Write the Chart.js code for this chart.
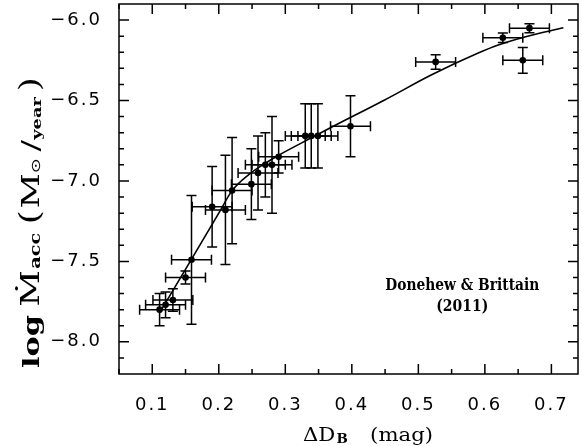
<!DOCTYPE html>
<html>
<head>
<meta charset="utf-8">
<script src="https://cdn.jsdelivr.net/npm/chart.js@4/dist/chart.umd.min.js"></script>
<style>
html, body { margin: 0; padding: 0; background: #fff; }
</style>
</head>
<body>
<canvas id="accChart" width="582" height="446"></canvas>
<script>
// stars: Delta D_B (mag) vs log accretion rate, with errors
const deltaDB    = [0.111, 0.120, 0.131, 0.150, 0.159, 0.190, 0.210, 0.220, 0.249, 0.259, 0.270,
                    0.280, 0.290, 0.330, 0.339, 0.349, 0.398, 0.526, 0.627, 0.657, 0.667];
const logMacc    = [-7.80, -7.77, -7.74, -7.60, -7.49, -7.16, -7.18, -7.06, -7.02, -6.95, -6.90,
                    -6.90, -6.85, -6.72, -6.72, -6.72, -6.66, -6.26, -6.11, -6.25, -6.05];
const deltaDBErr = [0.03, 0.03, 0.03, 0.03, 0.03, 0.03, 0.03, 0.03, 0.03, 0.03, 0.03,
                    0.03, 0.03, 0.03, 0.03, 0.03, 0.03, 0.03, 0.03, 0.03, 0.03];
const logMaccErr = [0.10, 0.08, 0.07, 0.04, 0.40, 0.25, 0.34, 0.33, 0.22, 0.23, 0.20,
                    0.30, 0.10, 0.20, 0.20, 0.20, 0.19, 0.045, 0.03, 0.08, 0.028];

// fitted relation
const fitDB   = [0.111, 0.160, 0.200, 0.220, 0.245, 0.270, 0.290, 0.340, 0.370, 0.450, 0.520, 0.590, 0.620, 0.660, 0.718];
const fitLogM = [-7.82, -7.48, -7.20, -7.06, -6.96, -6.89, -6.84, -6.73, -6.665, -6.495, -6.34, -6.205, -6.155, -6.105, -6.048];

const xTicks      = [0.1, 0.2, 0.3, 0.4, 0.5, 0.6, 0.7];
const xMinorTicks = [0.05, 0.15, 0.25, 0.35, 0.45, 0.55, 0.65];
const yTicks      = [-8.0, -7.5, -7.0, -6.5, -6.0];
const yMinorTicks = [-8.1, -7.9, -7.8, -7.7, -7.6, -7.4, -7.3, -7.2, -7.1,
                     -6.9, -6.8, -6.7, -6.6, -6.4, -6.3, -6.2, -6.1];

const refLabel = ['Donehew & Brittain', '(2011)'];

Chart.defaults.color = '#000';

function drawPieces(c, pieces, x0, y0, length, rotate) {
    c.save();
    c.translate(x0, y0);
    if (rotate) c.rotate(-Math.PI / 2);
    let total = 0;
    pieces.forEach(p => {
        c.font = p.font;
        p.w = c.measureText(p.text).width;
        total += p.w + (p.gap || 0);
    });
    c.scale(length / total, 1);
    c.textBaseline = 'alphabetic';
    c.textAlign = 'left';
    let x = 0;
    pieces.forEach(p => {
        c.font = p.font;
        c.fillText(p.text, x, p.dy || 0);
        x += p.w + (p.gap || 0);
    });
    c.restore();
}

function fitText(c, text, cx, y, font, width) {
    c.save();
    c.font = font;
    const w = c.measureText(text).width;
    c.translate(cx, y);
    c.scale(width / w, 1);
    c.textAlign = 'center';
    c.textBaseline = 'alphabetic';
    c.fillText(text, 0, 0);
    c.restore();
}

const errorBars = {
    id: 'errorBars',
    beforeDatasetsDraw(chart) {
        const c = chart.ctx, xs = chart.scales.x, ys = chart.scales.y;
        c.save();
        c.strokeStyle = '#000';
        c.lineWidth = 1.5;
        const cap = 5;
        deltaDB.forEach((v, i) => {
            const px = xs.getPixelForValue(v), py = ys.getPixelForValue(logMacc[i]);
            const x1 = xs.getPixelForValue(v - deltaDBErr[i]), x2 = xs.getPixelForValue(v + deltaDBErr[i]);
            const y1 = ys.getPixelForValue(logMacc[i] - logMaccErr[i]), y2 = ys.getPixelForValue(logMacc[i] + logMaccErr[i]);
            c.beginPath();
            c.moveTo(x1, py); c.lineTo(x2, py);
            c.moveTo(x1, py - cap); c.lineTo(x1, py + cap);
            c.moveTo(x2, py - cap); c.lineTo(x2, py + cap);
            c.moveTo(px, y1); c.lineTo(px, y2);
            c.moveTo(px - cap, y1); c.lineTo(px + cap, y1);
            c.moveTo(px - cap, y2); c.lineTo(px + cap, y2);
            c.stroke();
        });
        c.restore();
    }
};

const frameAndText = {
    id: 'frameAndText',
    beforeDraw(chart) {
        chart.ctx.letterSpacing = '2px';
    },
    afterDraw(chart) {
        const c = chart.ctx, a = chart.chartArea, xs = chart.scales.x, ys = chart.scales.y;
        c.save();
        c.letterSpacing = '0px';
        c.strokeStyle = '#000';
        c.lineWidth = 1.5;
        c.strokeRect(a.left, a.top, a.right - a.left, a.bottom - a.top);
        c.beginPath();
        const tx = (vals, len) => vals.forEach(v => {
            const p = xs.getPixelForValue(v);
            c.moveTo(p, a.bottom); c.lineTo(p, a.bottom - len);
            c.moveTo(p, a.top); c.lineTo(p, a.top + len);
        });
        const ty = (vals, len) => vals.forEach(v => {
            const p = ys.getPixelForValue(v);
            c.moveTo(a.left, p); c.lineTo(a.left + len, p);
            c.moveTo(a.right, p); c.lineTo(a.right - len, p);
        });
        tx(xTicks, 10); tx(xMinorTicks, 5);
        ty(yTicks, 10); ty(yMinorTicks, 5);
        c.stroke();

        c.fillStyle = '#000';
        // reference label
        const lx = xs.getPixelForValue(0.566);
        fitText(c, refLabel[0], lx, ys.getPixelForValue(-7.675), 'bold 17px "DejaVu Serif"', 154);
        fitText(c, refLabel[1], lx, ys.getPixelForValue(-7.81), 'bold 17px "DejaVu Serif"', 52);

        // x axis title
        drawPieces(c, [
            { text: '\u0394D', font: '19px "DejaVu Serif"', gap: 1 },
            { text: 'B', font: 'bold 12px "DejaVu Serif"', dy: 2, gap: 20 },
            { text: '(mag)', font: '19px "DejaVu Serif"' }
        ], 303, 441, 130, false);

        // y axis title
        drawPieces(c, [
            { text: 'log', font: 'bold 22px "DejaVu Serif"', gap: 6 },
            { text: '\u1E40', font: '26px "DejaVu Serif"', gap: 1 },
            { text: 'acc', font: 'bold 14px "DejaVu Serif"', dy: 1, gap: 6 },
            { text: '(', font: '27px "DejaVu Serif"', gap: 1 },
            { text: 'M', font: '25px "DejaVu Serif"', gap: 0 },
            { text: '\u2299', font: '13px "DejaVu Sans"', dy: 1, gap: 5 },
            { text: '/', font: '25px "DejaVu Serif"', gap: 0 },
            { text: 'year', font: 'bold 13px "DejaVu Serif"', dy: 2, gap: 4 },
            { text: ')', font: '27px "DejaVu Serif"' }
        ], 39, 368, 291, true);
        c.restore();
    }
};

const ctx = document.getElementById('accChart').getContext('2d');
const accChart = new Chart(ctx, {
    type: 'scatter',
    data: {
        datasets: [{
            type: 'line',
            data: fitDB.map((x, i) => ({ x: x, y: fitLogM[i] })),
            borderColor: '#000',
            borderWidth: 1.6,
            pointRadius: 0,
            fill: false,
            cubicInterpolationMode: 'monotone'
        }, {
            data: deltaDB.map((x, i) => ({ x: x, y: logMacc[i] })),
            backgroundColor: '#000',
            borderColor: '#000',
            pointRadius: 3.3,
            borderWidth: 0
        }]
    },
    options: {
        responsive: false,
        animation: false,
        layout: { padding: { top: 3, right: 2, left: 0, bottom: 0 } },
        plugins: { legend: { display: false }, tooltip: { enabled: false } },
        scales: {
            x: {
                type: 'linear',
                min: 0.05,
                max: 0.74,
                grid: { display: false },
                border: { display: false },
                afterBuildTicks: s => { s.ticks = xTicks.map(v => ({ value: v })); },
                afterFit: s => { s.height = 72; s.paddingLeft = 0; s.paddingRight = 0; },
                ticks: {
                    font: { family: 'DejaVu Sans', size: 18 },
                    padding: 13,
                    maxRotation: 0,
                    autoSkip: false,
                    callback: v => v.toFixed(1)
                }
            },
            y: {
                type: 'linear',
                min: -8.2,
                max: -5.9,
                grid: { display: false },
                border: { display: false },
                afterBuildTicks: s => { s.ticks = yTicks.map(v => ({ value: v })); },
                afterFit: s => { s.width = 119; s.paddingTop = 0; s.paddingBottom = 0; },
                ticks: {
                    font: { family: 'DejaVu Sans', size: 18 },
                    padding: 9,
                    autoSkip: false,
                    callback: v => '\u2212' + Math.abs(v).toFixed(1)
                }
            }
        }
    },
    plugins: [errorBars, frameAndText]
});
</script>
</body>
</html>
